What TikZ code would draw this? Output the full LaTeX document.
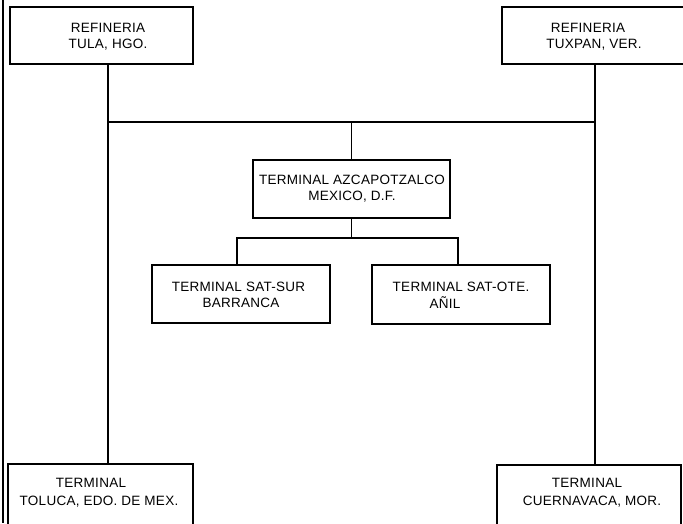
\documentclass[tikz,border=0pt]{standalone}
\usepackage{fontspec}
\newfontfamily\plotfont[LetterSpace=2]{Liberation Sans}
\begin{document}
\begin{tikzpicture}[x=1pt,y=-1pt,
  box/.style={draw,line width=1.3pt,inner sep=0pt,outer sep=0pt},
  lbl/.style={font=\plotfont\fontsize{13.5}{16}\selectfont,inner sep=0pt,anchor=center},
  conn/.style={line width=1.3pt}]
\useasboundingbox (0,0) rectangle (683,523);
\clip (0,0) rectangle (683,523);
% boxes
\node[box,minimum width=183pt,minimum height=57pt] (tula) at (101.5,35.5) {};
\node[box,minimum width=198pt,minimum height=57pt] (tuxpan) at (601,35.5) {};
\node[box,minimum width=197pt,minimum height=58pt] (azc) at (351.5,189) {};
\node[box,minimum width=178pt,minimum height=58pt] (sur) at (241,294) {};
\node[box,minimum width=178pt,minimum height=59pt] (ote) at (461,294.5) {};
\node[box,minimum width=185pt,minimum height=81pt] (toluca) at (100.5,504.5) {};
\node[box,minimum width=184pt,minimum height=80pt] (cuer) at (589,505) {};
% texts
\node[lbl] (tulaA) at (108,28) {REFINERIA};
\node[lbl] (tulaB) at (108,45) {TULA, HGO.};
\node[lbl] (tuxA) at (588,28) {REFINERIA};
\node[lbl] (tuxB) at (594,45) {TUXPAN, VER.};
\node[lbl] (azcA) at (352,180) {TERMINAL AZCAPOTZALCO};
\node[lbl] (azcB) at (352,197) {MEXICO, D.F.};
\node[lbl] (surA) at (238.5,287) {TERMINAL SAT-SUR};
\node[lbl] (surB) at (241,303) {BARRANCA};
\node[lbl] (oteA) at (461,287) {TERMINAL SAT-OTE.};
\node[lbl] (oteB) at (445,303) {AÑIL};
\node[lbl] (tolA) at (91,483) {TERMINAL};
\node[lbl] (tolB) at (99,502) {TOLUCA, EDO. DE MEX.};
\node[lbl] (cueA) at (587,483) {TERMINAL};
\node[lbl] (cueB) at (592,502) {CUERNAVACA, MOR.};
% junctions
\coordinate (jl) at (108,122);
\coordinate (jr) at (595,122);
\coordinate (js) at (237,238);
\coordinate (jo) at (458,238);
\coordinate (edgeT) at (3,0);
\coordinate (edgeB) at (3,523);
% connectors
\draw[conn] (jl |- tula.south) -- (jl |- toluca.north);
\draw[conn] (jr |- tuxpan.south) -- (jr |- cuer.north);
\draw[conn] (jl) -- (jr);
\draw[conn] (azc.north) -- (azc.north |- jl);
\draw[conn] (azc.south) -- (azc.south |- js);
\draw[conn] (js |- sur.north) -- (js) -- (jo) -- (jo |- ote.north);
\draw[conn] (edgeT) -- (edgeB);
\end{tikzpicture}
\end{document}
